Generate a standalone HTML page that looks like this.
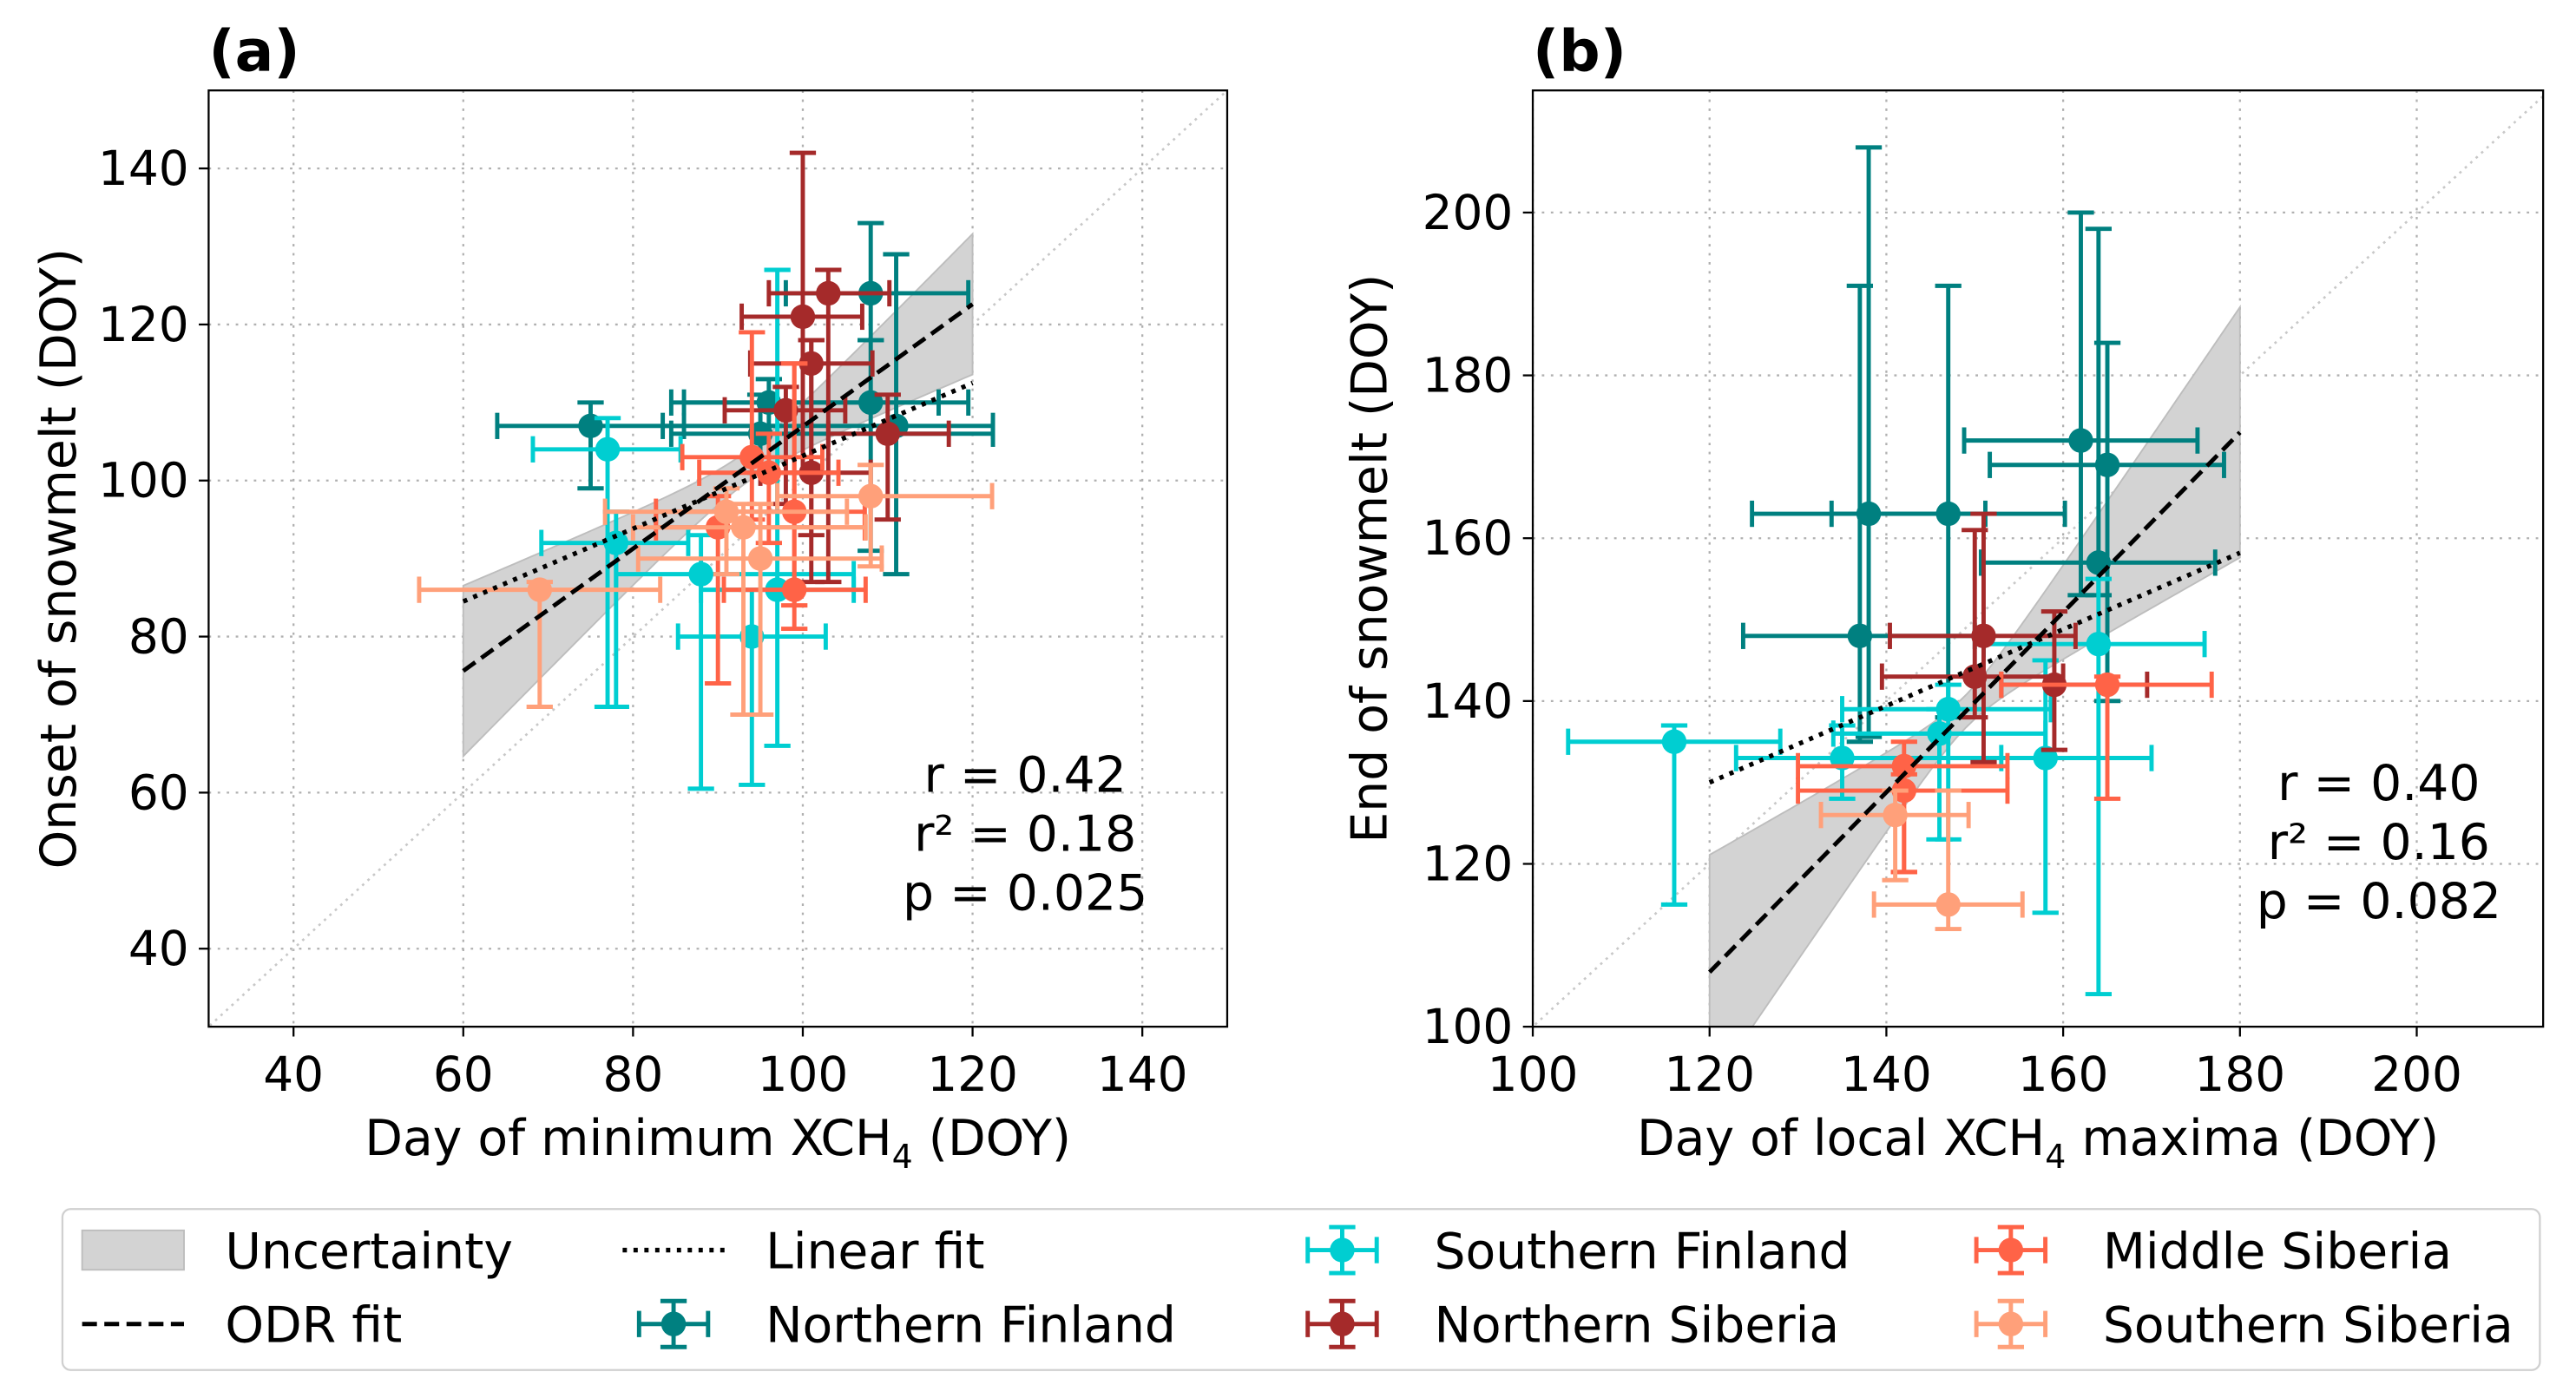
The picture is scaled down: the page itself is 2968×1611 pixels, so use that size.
<!DOCTYPE html>
<html><head><meta charset="utf-8"><style>
html,body{margin:0;padding:0;background:#fff;overflow:hidden;width:2968px;height:1611px}
svg{display:block}
text{font-family:"DejaVu Sans","Liberation Sans",sans-serif;fill:#000}
</style></head><body>
<svg id="fig" xmlns="http://www.w3.org/2000/svg" width="2968" height="1611" viewBox="0 0 1568 851">
<g id="panelA"></g>
<g id="panelB"></g>
<g id="legend"></g>
</svg>
<script>
// ---- Panel (a) data: [x, y, xlo, xhi, ylo, yhi]
const aTicks = [40,60,80,100,120,140];
const aNF = [[75,107,64,86,99,110],[108,124,98,119.5,118,133],[96,110,84.5,119.5,107,113],[108,110,86,116,91,118],[111,107,83.5,122.4,88,129],[95,106,84.5,122.4,101,111]];
const aSF = [[77,104,68.2,85.6,71,108],[78,92,69.2,86.5,71,96],[88,88,78,106,60.5,93],[97,86,88,106,66,127],[94,80,85.3,102.7,61,86]];
const aNS = [[103,124,96,110.2,87,127],[100,121,92.8,107,101,142],[101,115,93.8,108.2,93,118],[98,109,90.8,105,97,112],[110,106,103,117.2,95,111],[101,101,95,108,87,118]];
const aMS = [[94,103,85.8,102.3,95,119],[96,101,87.8,104.2,92,106],[99,96,82.7,107.3,84,115],[90,94,82.7,107.3,74,98],[99,86,90.7,107.4,81,115]];
const aSS = [[69,86,54.8,83.2,71,87],[91,96,76.7,105.2,88,99],[93,94,80,107.4,70,97],[95,90,80.6,109.3,70,97],[108,98,97,122.3,89,102]];
const aODR = [60,75.6,120,122.6];
const aLin = [60,84.5,120,112.5];
const aStats = ["r = 0.42","r\u00b2 = 0.18","p = 0.025"];
// ---- Panel (b) data
const bTicks = [100,120,140,160,180,200];
const bNF = [[138,163,124.8,151.2,135.6,208],[137,148,123.8,150,135,191],[147,163,133.8,160.2,138,191],[162,172,148.8,175.2,153,200],[165,169,151.7,178.2,140,184],[164,157,150.7,177.2,153,198]];
const bSF = [[116,135,104,128,115,137],[135,133,123,153,128,137],[147,139,135,158.6,123,142],[146,136,134,158,123,139],[158,133,146,170,114,145],[164,147,151,176,104,155]];
const bNS = [[151,148,140.4,161.4,132.5,163],[150,143,139.5,160,138,161],[159,142,153,169.5,134,151]];
const bMS = [[165,142,153,176.8,128,143],[142,132,130,153.7,119,135],[142,129,130,153.7,119,131]];
const bSS = [[141,126,132.6,149.3,118,129],[147,115,138.6,155.4,112,129]];
const bODR = [120,106.7,180,173];
const bLin = [120,130,180,158.2];
const bStats = ["r = 0.40","r\u00b2 = 0.16","p = 0.082"];

const NS_="http://www.w3.org/2000/svg";
function mk(p,tag,at){const e=document.createElementNS(NS_,tag);for(const k in at)e.setAttribute(k,at[k]);p.appendChild(e);return e;}
const COLORS={NF:"#008080",SF:"#00CED1",NS:"#A52A2A",MS:"#FF6347",SS:"#FFA07A"};
const EW=2.6;

function panel(g,cfg){
  const L=cfg.L,R=cfg.R,T=55,B=625;
  const sx=v=>L+(v-cfg.xmin)/(cfg.xmax-cfg.xmin)*(R-L);
  const sy=v=>B-(v-cfg.ymin)/(cfg.ymax-cfg.ymin)*(B-T);
  const cid="clip"+cfg.id;
  const defs=mk(g,"defs",{});const cp=mk(defs,"clipPath",{id:cid});mk(cp,"rect",{x:L,y:T,width:R-L,height:B-T});
  const inner=mk(g,"g",{"clip-path":"url(#"+cid+")"});
  cfg.xt.forEach(t=>{const l=mk(inner,"line",{x1:sx(t),x2:sx(t),y1:T,y2:B,stroke:"#b0b0b0","stroke-width":1.2,"stroke-dasharray":"1.5,4"});
    
    });
  cfg.yt.forEach(t=>{const l=mk(inner,"line",{x1:L,x2:R,y1:sy(t),y2:sy(t),stroke:"#b0b0b0","stroke-width":1.2,"stroke-dasharray":"1.5,4"});
    
    });
  const id=mk(inner,"line",{x1:sx(0),y1:sy(0),x2:sx(300),y2:sy(300),stroke:"#c8c8c8","stroke-width":1.4,"stroke-dasharray":"1.5,3"});
  
  
  const o=cfg.odr,slope=(o[3]-o[1])/(o[2]-o[0]);
  const up=[],dn=[];
  for(let i=0;i<=60;i++){const x=o[0]+(o[2]-o[0])*i/60;const c=o[1]+slope*(x-o[0]);
    const hw=Math.sqrt(cfg.h0*cfg.h0+cfg.k*(x-cfg.xm)*(x-cfg.xm));
    up.push(sx(x)+","+sy(c+hw));dn.unshift(sx(x)+","+sy(c-hw));}
  const band=mk(inner,"polygon",{points:up.concat(dn).join(" "),fill:"#d3d3d3",stroke:"#bdbdbd","stroke-width":1});
  
  
  [["NF",cfg.NF],["SF",cfg.SF],["NS",cfg.NS],["MS",cfg.MS],["SS",cfg.SS]].forEach(([key,data])=>{
    const sg=mk(inner,"g",{});
    
    
    const c=COLORS[key];
    data.forEach(d=>{
      const px=sx(d[0]),py=sy(d[1]);
      const eb=mk(sg,"g",{stroke:c,"stroke-width":EW});
      
      
      mk(eb,"line",{x1:sx(d[2]),x2:sx(d[3]),y1:py,y2:py});
      mk(eb,"line",{x1:px,x2:px,y1:sy(d[4]),y2:sy(d[5])});
      mk(eb,"line",{x1:sx(d[2]),x2:sx(d[2]),y1:py-8,y2:py+8});
      mk(eb,"line",{x1:sx(d[3]),x2:sx(d[3]),y1:py-8,y2:py+8});
      mk(eb,"line",{x1:px-8,x2:px+8,y1:sy(d[4]),y2:sy(d[4])});
      mk(eb,"line",{x1:px-8,x2:px+8,y1:sy(d[5]),y2:sy(d[5])});
    });
    data.forEach(d=>{
      const m=mk(sg,"circle",{cx:sx(d[0]),cy:sy(d[1]),r:7.5,fill:c});
      
      
    });
  });
  const od=mk(inner,"line",{x1:sx(o[0]),y1:sy(o[1]),x2:sx(o[2]),y2:sy(o[3]),stroke:"#000","stroke-width":2.6,"stroke-dasharray":"9,4.5"});
  
  
  const ln=cfg.lin;
  const lf=mk(inner,"line",{x1:sx(ln[0]),y1:sy(ln[1]),x2:sx(ln[2]),y2:sy(ln[3]),stroke:"#000","stroke-width":2.8,"stroke-dasharray":"2.6,4"});
  
  
  const fr=mk(g,"rect",{x:L,y:T,width:R-L,height:B-T,fill:"none",stroke:"#000","stroke-width":1.2});
  
  
  cfg.xt.forEach(t=>{mk(g,"line",{x1:sx(t),x2:sx(t),y1:B,y2:B+6,stroke:"#000","stroke-width":1.2});
    const tx=mk(g,"text",{x:sx(t),y:B+39,"font-size":29,"text-anchor":"middle"});tx.textContent=t;
    
    });
  cfg.yt.forEach(t=>{mk(g,"line",{x1:L-6,x2:L,y1:sy(t),y2:sy(t),stroke:"#000","stroke-width":1.2});
    const tx=mk(g,"text",{x:L-12,y:sy(t)+10,"font-size":29,"text-anchor":"end"});tx.textContent=t;
    
    });
  const xl=mk(g,"text",{x:(L+R)/2,y:703,"font-size":30,"text-anchor":"middle"});
  xl.innerHTML=cfg.xlabel;
  
  
  const yl=mk(g,"text",{x:0,y:0,"font-size":30,"text-anchor":"middle",transform:"translate("+cfg.ylx+","+((T+B)/2)+") rotate(-90)"});
  yl.textContent=cfg.ylabel;
  
  
  const pl=mk(g,"text",{x:cfg.plx,y:43,"font-size":35,"font-weight":"bold"});
  pl.textContent=cfg.title;
  
  
  cfg.stats.forEach((s,i)=>{const st=mk(g,"text",{x:cfg.stx,y:cfg.sty+i*36,"font-size":30,"text-anchor":"middle"});st.textContent=s;
    
    });
}
panel(document.getElementById("panelA"),{id:"a",L:127,R:747,xmin:30,xmax:150,ymin:30,ymax:150,xt:aTicks,yt:aTicks,
  NF:aNF,SF:aSF,NS:aNS,MS:aMS,SS:aSS,odr:aODR,lin:aLin,h0:2,k:0.106,xm:93,
  xlabel:'Day of minimum XCH<tspan font-size="20" dy="8">4</tspan><tspan dy="-8"> (DOY)</tspan>',ylabel:"Onset of snowmelt (DOY)",ylx:46,plx:127,title:"(a)",stats:aStats,stx:624,sty:482});
panel(document.getElementById("panelB"),{id:"b",L:933,R:1548,xmin:100,xmax:214.3,ymin:100,ymax:215,xt:bTicks,yt:bTicks,
  NF:bNF,SF:bSF,NS:bNS,MS:bMS,SS:bSS,odr:bODR,lin:bLin,h0:2,k:0.242,xm:149,
  xlabel:'Day of local XCH<tspan font-size="20" dy="8">4</tspan><tspan dy="-8"> maxima (DOY)</tspan>',ylabel:"End of snowmelt (DOY)",ylx:844,plx:933,title:"(b)",stats:bStats,stx:1448,sty:487});

const lg=document.getElementById("legend");
const box=mk(lg,"rect",{x:38,y:736,width:1508,height:98,rx:5,fill:"#fff",stroke:"#d0d0d0","stroke-width":1.2});


function entry(x,y,label,kind,color){
  const g=mk(lg,"g",{});
  
  
  if(kind==="band")mk(g,"rect",{x:x,y:y-12,width:62,height:24,fill:"#d3d3d3",stroke:"#bdbdbd"});
  else if(kind==="dash")mk(g,"line",{x1:x,x2:x+62,y1:y,y2:y,stroke:"#000","stroke-width":2.6,"stroke-dasharray":"9,4.5"});
  else if(kind==="dot")mk(g,"line",{x1:x,x2:x+62,y1:y,y2:y,stroke:"#000","stroke-width":2.8,"stroke-dasharray":"2.6,4"});
  else{const cx=x+31;
    mk(g,"line",{x1:x+10,x2:x+52,y1:y,y2:y,stroke:color,"stroke-width":EW});
    mk(g,"line",{x1:cx,x2:cx,y1:y-14,y2:y+14,stroke:color,"stroke-width":EW});
    mk(g,"line",{x1:x+10,x2:x+10,y1:y-8,y2:y+8,stroke:color,"stroke-width":EW});
    mk(g,"line",{x1:x+52,x2:x+52,y1:y-8,y2:y+8,stroke:color,"stroke-width":EW});
    mk(g,"line",{x1:cx-8,x2:cx+8,y1:y-14,y2:y-14,stroke:color,"stroke-width":EW});
    mk(g,"line",{x1:cx-8,x2:cx+8,y1:y+14,y2:y+14,stroke:color,"stroke-width":EW});
    mk(g,"circle",{cx:cx,cy:y,r:7.5,fill:color});}
  const t=mk(g,"text",{x:x+87,y:y+11,"font-size":30});t.textContent=label;
}
entry(50,761,"Uncertainty","band");
entry(50,806,"ODR fit","dash");
entry(379,761,"Linear fit","dot");
entry(379,806,"Northern Finland","eb",COLORS.NF);
entry(786,761,"Southern Finland","eb",COLORS.SF);
entry(786,806,"Northern Siberia","eb",COLORS.NS);
entry(1193,761,"Middle Siberia","eb",COLORS.MS);
entry(1193,806,"Southern Siberia","eb",COLORS.SS);
</script>
</body></html>
